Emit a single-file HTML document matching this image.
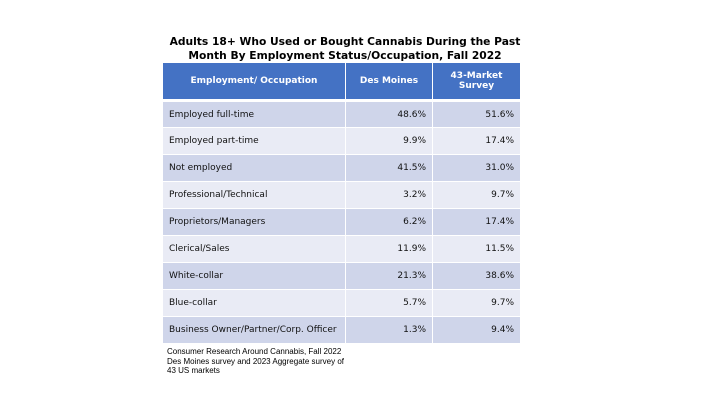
<!DOCTYPE html>
<html><head><style>
body{margin:0;width:720px;height:405px;background:#fff;position:relative;font-family:"DejaVu Sans","Liberation Sans",sans-serif;overflow:hidden}
.t{position:absolute;left:152px;width:386px;top:35px;text-align:center;font-weight:bold;font-size:10.7px;line-height:14px;color:#000}
table{position:absolute;left:162px;top:62px;border-collapse:collapse;width:358px;table-layout:fixed}
td{border:1.5px solid #fff;font-size:9px;color:#111;height:27px;padding:0 6px;box-sizing:border-box}
tr.h td{background:#4472C4;color:#fff;font-weight:bold;text-align:center;height:38px;border-bottom:3px solid #fff}
tr.a td{background:#CFD5EA}tr.b td{background:#E9EBF5}
td.n{text-align:right}
.f{position:absolute;left:167px;top:347px;font-size:8px;line-height:9.6px;color:#000;font-family:"Liberation Sans",sans-serif}
</style></head><body>
<div class="t">Adults 18+ Who Used or Bought Cannabis During the Past<br>Month By Employment Status/Occupation, Fall 2022</div>
<table>
<colgroup><col style="width:183px"><col style="width:87px"><col style="width:88px"></colgroup>
<tr class="h"><td>Employment/ Occupation</td><td>Des Moines</td><td>43-Market<br>Survey</td></tr>
<tr class="a"><td>Employed full-time</td><td class="n">48.6%</td><td class="n">51.6%</td></tr>
<tr class="b"><td>Employed part-time</td><td class="n">9.9%</td><td class="n">17.4%</td></tr>
<tr class="a"><td>Not employed</td><td class="n">41.5%</td><td class="n">31.0%</td></tr>
<tr class="b"><td>Professional/Technical</td><td class="n">3.2%</td><td class="n">9.7%</td></tr>
<tr class="a"><td>Proprietors/Managers</td><td class="n">6.2%</td><td class="n">17.4%</td></tr>
<tr class="b"><td>Clerical/Sales</td><td class="n">11.9%</td><td class="n">11.5%</td></tr>
<tr class="a"><td>White-collar</td><td class="n">21.3%</td><td class="n">38.6%</td></tr>
<tr class="b"><td>Blue-collar</td><td class="n">5.7%</td><td class="n">9.7%</td></tr>
<tr class="a"><td>Business Owner/Partner/Corp. Officer</td><td class="n">1.3%</td><td class="n">9.4%</td></tr>
</table>
<div class="f">Consumer Research Around Cannabis, Fall 2022<br>Des Moines survey and 2023 Aggregate survey of<br>43 US markets</div>
</body></html>
